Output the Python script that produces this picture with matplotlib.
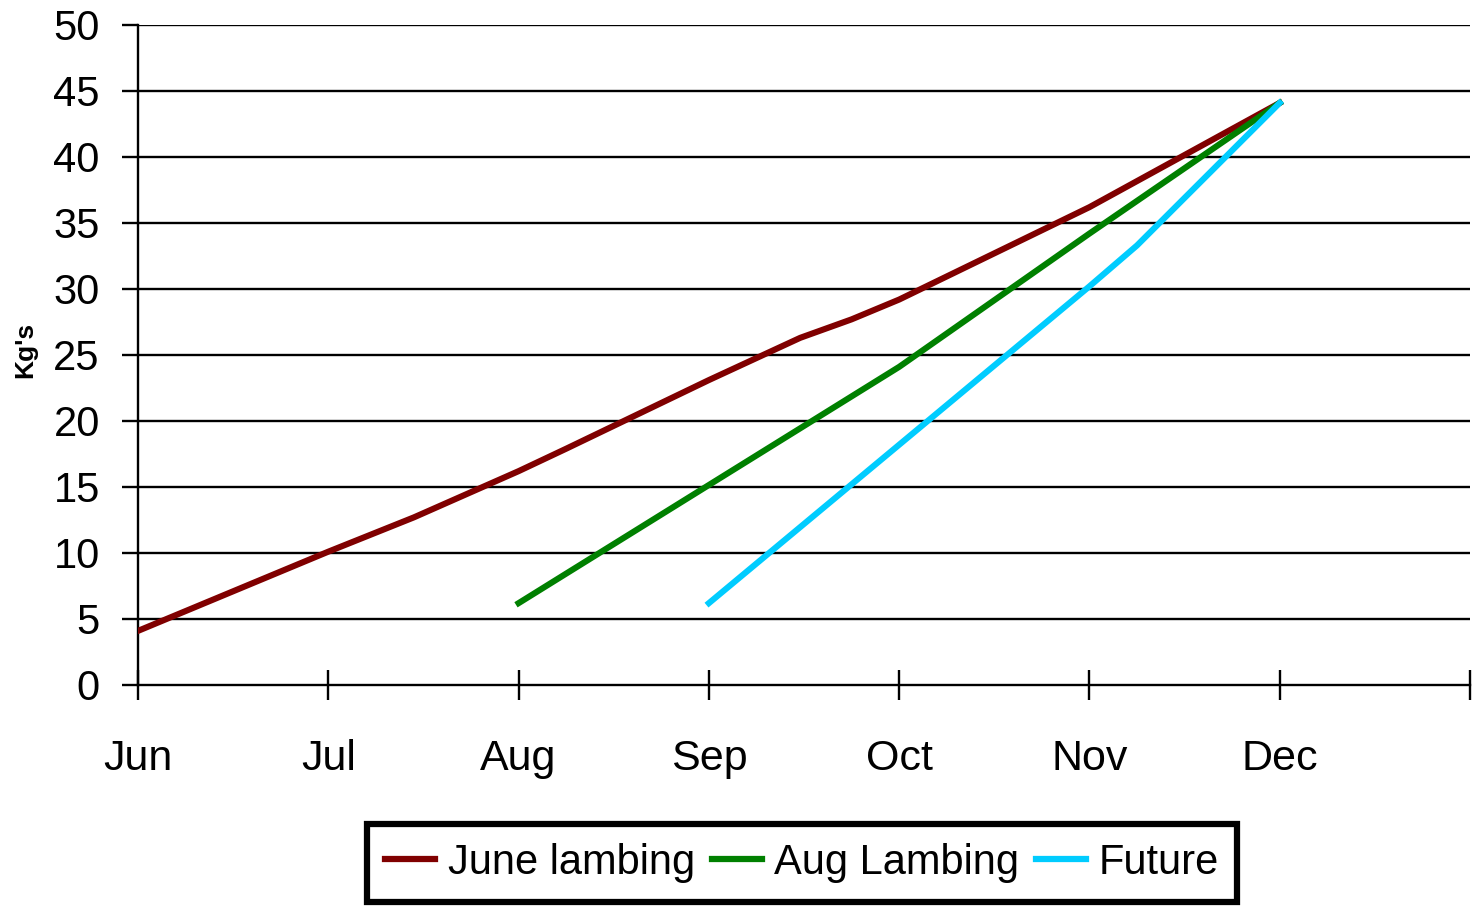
import matplotlib
matplotlib.use("Agg")
import matplotlib.pyplot as plt
import numpy as np

# x is months after the start of June (Jun = 0)
months = ["Jun", "Jul", "Aug", "Sep", "Oct", "Nov", "Dec"]

june_x = [0, 1, 1.45, 2, 2.25, 3, 3.48, 3.75, 4, 5, 6]
june_y = [4.1, 10.1, 12.7, 16.2, 17.9, 23.1, 26.3, 27.7, 29.2, 36.2, 44.1]

aug_x = [2, 4, 5, 6]
aug_y = [6.2, 24.1, 34.2, 44.1]

future_x = [3, 4, 5, 5.25, 6]
future_y = [6.2, 18.2, 30.2, 33.3, 44.1]

plt.rcParams['font.family'] = ['Liberation Sans', 'DejaVu Sans']

fig = plt.figure(figsize=(14.82, 9.06), dpi=100)
ax = fig.add_axes([138 / 1482, 1 - 685 / 906, (1470 - 138) / 1482, (685 - 25) / 906])

for yv in np.arange(5, 55, 5):
    ax.axhline(yv, color="black", lw=1.7, zorder=1)

ax.plot(june_x, june_y, color="#800000", lw=4.4, label="June lambing", zorder=3)
ax.plot(aug_x, aug_y, color="#008000", lw=4.4, label="Aug Lambing", zorder=3)
ax.plot(future_x, future_y, color="#00CCFF", lw=4.4, label="Future", zorder=3)

ax.set_xlim(0, 7)
ax.set_ylim(0, 50)
ax.set_xticks(range(8))
ax.set_xticklabels(months + [""], fontsize=31)
ax.set_yticks(range(0, 55, 5))
ax.tick_params(axis="y", labelsize=30, length=11.5, width=1.7, direction="out", pad=16)
ax.tick_params(axis="x", length=22, width=1.7, direction="inout", pad=28)

for s in ["top", "right"]:
    ax.spines[s].set_visible(False)
ax.spines["left"].set_linewidth(1.7)
ax.spines["bottom"].set_linewidth(1.7)

fig.text(25 / 1482, 1 - 350 / 906, "Kg's", rotation=90, fontsize=19, fontweight="bold",
         ha="center", va="center")

leg = fig.legend(loc="center", bbox_to_anchor=(802 / 1482, 1 - 863 / 906), ncol=3,
                 fontsize=30, frameon=True, fancybox=False, edgecolor="black",
                 framealpha=1, handlelength=1.2, handletextpad=0.3, columnspacing=0.4,
                 borderpad=0.45, borderaxespad=0)
leg.get_frame().set_linewidth(4.5)
for ln in leg.get_lines():
    ln.set_linewidth(4.5)

fig.savefig("out.png", dpi=100, facecolor="white")
